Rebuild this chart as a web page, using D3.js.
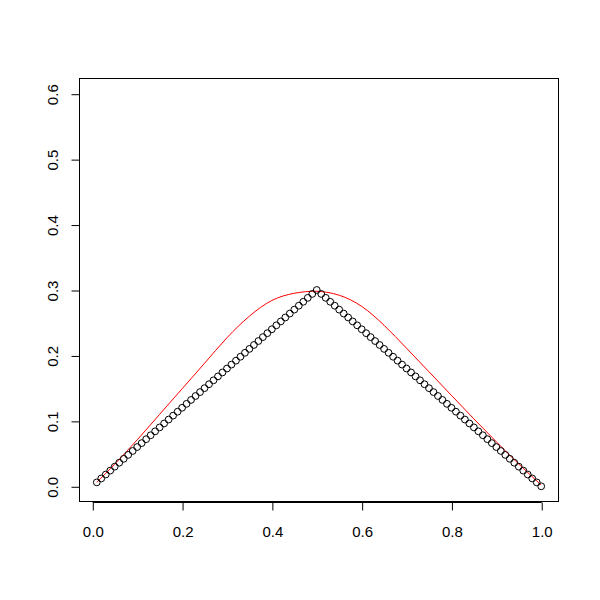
<!DOCTYPE html>
<html>
<head>
<meta charset="utf-8">
<script src="https://cdn.jsdelivr.net/npm/d3@7"></script>
<style>
html,body{margin:0;padding:0;background:#fff;}
svg{display:block;}
text{font-family:"Liberation Sans",Arial,Helvetica,sans-serif;font-size:15px;fill:#000;}
</style>
</head>
<body>
<svg id="chart" width="600" height="600"></svg>
<script>
// observed points
const pointX = [0.01,0.02,0.03,0.04,0.05,0.06,0.07,0.08,0.09,0.10,
0.11,0.12,0.13,0.14,0.15,0.16,0.17,0.18,0.19,0.20,
0.21,0.22,0.23,0.24,0.25,0.26,0.27,0.28,0.29,0.30,
0.31,0.32,0.33,0.34,0.35,0.36,0.37,0.38,0.39,0.40,
0.41,0.42,0.43,0.44,0.45,0.46,0.47,0.48,0.49,0.50,
0.51,0.52,0.53,0.54,0.55,0.56,0.57,0.58,0.59,0.60,
0.61,0.62,0.63,0.64,0.65,0.66,0.67,0.68,0.69,0.70,
0.71,0.72,0.73,0.74,0.75,0.76,0.77,0.78,0.79,0.80,
0.81,0.82,0.83,0.84,0.85,0.86,0.87,0.88,0.89,0.90,
0.91,0.92,0.93,0.94,0.95,0.96,0.97,0.98,0.99,1.00];
const pointY = [0.006,0.012,0.018,0.024,0.030,0.036,0.042,0.048,0.054,0.060,
0.066,0.072,0.078,0.084,0.090,0.096,0.102,0.108,0.114,0.120,
0.126,0.132,0.138,0.144,0.150,0.156,0.162,0.168,0.174,0.180,
0.186,0.192,0.198,0.204,0.210,0.216,0.222,0.228,0.234,0.240,
0.246,0.252,0.258,0.264,0.270,0.276,0.282,0.288,0.294,0.300,
0.294,0.288,0.282,0.276,0.270,0.264,0.258,0.252,0.246,0.240,
0.234,0.228,0.222,0.216,0.210,0.204,0.198,0.192,0.186,0.180,
0.174,0.168,0.162,0.156,0.150,0.144,0.138,0.132,0.126,0.120,
0.114,0.108,0.102,0.096,0.090,0.084,0.078,0.072,0.066,0.060,
0.054,0.048,0.042,0.036,0.030,0.024,0.018,0.012,0.006,0.000];
// smooth red curve
const curveX = [0.01,0.05,0.10,0.15,0.20,0.25,0.30,0.35,0.40,0.45,0.50,0.55,0.60,0.65,0.70,0.75,0.80,0.85,0.90,0.95,1.00];
const curveY = [0.006,0.034,0.071,0.110,0.149,0.188,0.227,0.260,0.284,0.295,0.298,0.292,0.275,0.246,0.211,0.175,0.139,0.103,0.068,0.034,0.002];
// tick labels
const xTicks = [0.0,0.2,0.4,0.6,0.8,1.0];
const yTicks = [0.0,0.1,0.2,0.3,0.4,0.5,0.6];

const svg = d3.select("#chart");
const L = 79, R = 559, T = 78, B = 502;
const x = d3.scaleLinear().domain([-0.0296, 1.0396]).range([L, R]);
const y = d3.scaleLinear().domain([-0.024, 0.624]).range([B, T]);

// box
svg.append("rect").attr("x", L + 0.5).attr("y", T + 0.5)
  .attr("width", R - L - 1).attr("height", B - T - 1)
  .attr("fill", "none").attr("stroke", "#000").attr("stroke-width", 1);

// x axis
const xa = svg.append("g").attr("transform", `translate(0.5,${B + 0.5})`)
  .call(d3.axisBottom(x).tickValues(xTicks).tickFormat(d3.format(".1f")).tickSize(8).tickPadding(16));
xa.select(".domain").remove();
xa.append("line").attr("x1", x(xTicks[0])).attr("x2", x(xTicks[xTicks.length-1])).attr("stroke", "#000");
xa.selectAll("text").style("font-size", "15px").style("font-family", '"Liberation Sans",Arial,sans-serif').attr("fill", "#000");
xa.selectAll("line").attr("stroke", "#000");

// y axis
const ya = svg.append("g").attr("transform", `translate(${L + 0.5},0.5)`)
  .call(d3.axisLeft(y).tickValues(yTicks).tickFormat(d3.format(".1f")).tickSize(8).tickPadding(0));
ya.select(".domain").remove();
ya.append("line").attr("y1", y(yTicks[0])).attr("y2", y(yTicks[yTicks.length-1])).attr("stroke", "#000");
ya.selectAll("line").attr("stroke", "#000");
ya.selectAll(".tick text")
  .attr("x", 0).attr("dy", null).attr("y", 0)
  .attr("text-anchor", "middle")
  .attr("transform", "translate(-22,0) rotate(-90)")
  .style("font-size", "15px").style("font-family", '"Liberation Sans",Arial,sans-serif').attr("fill", "#000");

// red curve
const cdata = curveX.map((d, i) => [d, curveY[i]]);
svg.append("path").datum(cdata)
  .attr("fill", "none").attr("stroke", "#ff0000").attr("stroke-width", 1)
  .attr("d", d3.line().x(d => x(d[0])).y(d => y(d[1])).curve(d3.curveNatural));

// points
svg.append("g").selectAll("circle").data(pointX.map((d, i) => [d, pointY[i]]))
  .join("circle")
  .attr("cx", d => x(d[0])).attr("cy", d => y(d[1])).attr("r", 3.4)
  .attr("fill", "none").attr("stroke", "#000").attr("stroke-width", 1);
</script>
</body>
</html>
